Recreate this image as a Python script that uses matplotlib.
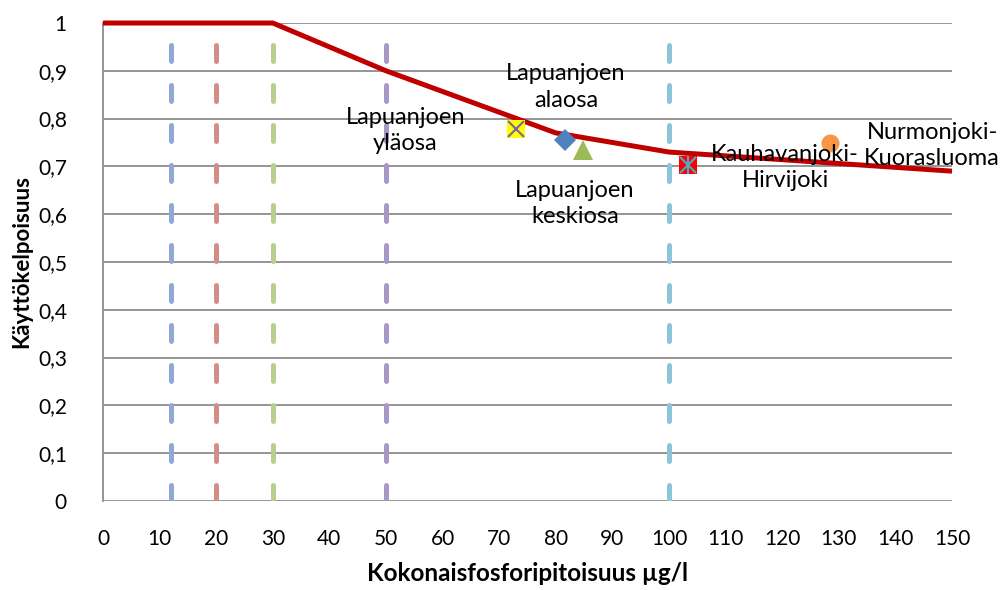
import matplotlib
matplotlib.use("Agg")
import matplotlib.pyplot as plt
from matplotlib.ticker import FuncFormatter

# Käyttökelpoisuuskäyrä
kayra_x = [0, 30, 50, 80, 100, 150]
kayra_y = [1.0, 1.0, 0.9, 0.77, 0.73, 0.69]

# Pystysuorat katkoviivat (luokkarajat)
rajat_x = [12, 20, 30, 50, 100]
rajat_varit = ["#8EA9D8", "#D68B8B", "#B7D08E", "#A898C6", "#8CC5DA"]

# Jokipisteet
joet = ["Lapuanjoen\nyläosa", "Lapuanjoen\nalaosa", "Lapuanjoen\nkeskiosa",
        "Kauhavanjoki-\nHirvijoki", "Nurmonjoki-\nKuorasluoma"]
joet_x = [73, 81.6, 84.8, 103.4, 128.4]
joet_y = [0.778, 0.755, 0.735, 0.703, 0.749]

# tekstien paikat
teksti_x = [53.4, 81.8, 83.4, 120.5, 146.5]
teksti_y = [0.776, 0.866, 0.623, 0.697, 0.743]

plt.rcParams['font.family'] = ['Lato', 'DejaVu Sans']

fig = plt.figure(figsize=(10, 5.9), dpi=100)
ax = fig.add_axes([0.103, 0.151, 0.849, 0.810])

ax.set_xlim(0, 150)
ax.set_ylim(0, 1)
ax.set_xticks(range(0, 151, 10))
ax.set_yticks([i / 10 for i in range(11)])
ax.yaxis.set_major_formatter(FuncFormatter(lambda v, p: ("%.1f" % v).replace(".", ",") if 0 < v < 1 else "%d" % v))
ax.tick_params(length=0, labelsize=15)
ax.tick_params(axis="x", pad=20)
ax.tick_params(axis="y", pad=26)
ax.grid(axis="y", color="#8C8C8C", linewidth=1.3)
ax.set_axisbelow(True)
for s in ["top", "right", "bottom"]:
    ax.spines[s].set_visible(False)
ax.spines["left"].set_color("#8C8C8C")
ax.spines["left"].set_linewidth(1.3)

for x, c in zip(rajat_x, rajat_varit):
    ax.plot([x, x], [0, 1], color=c, linewidth=3.6, dashes=(3.2, 4.8),
            dash_capstyle="round", zorder=2)

ax.plot(kayra_x, kayra_y, color="#C00000", linewidth=3.6, zorder=3, clip_on=False,
        solid_capstyle="butt")

# merkit
ax.plot(joet_x[0], joet_y[0], marker="s", markersize=13, color="#FFFF00", markeredgewidth=0, zorder=4)
ax.plot(joet_x[0], joet_y[0], marker="x", markersize=11, color="#8064A2", markeredgewidth=1.5, zorder=5)
ax.plot(joet_x[1], joet_y[1], marker="D", markersize=11, color="#4F81BD", markeredgewidth=0, zorder=4)
ax.plot(joet_x[2], joet_y[2], marker="^", markersize=15, color="#9BBB59", markeredgewidth=0, zorder=4)
ax.plot(joet_x[3], joet_y[3], marker="s", markersize=13, color="#FF0000", markeredgewidth=0, zorder=4)
ax.plot(joet_x[3], joet_y[3], marker="x", markersize=11, color="#4BACC6", markeredgewidth=1.5, zorder=5)
ax.plot(joet_x[3], joet_y[3], marker="|", markersize=13, color="#4BACC6", markeredgewidth=1.5, zorder=5)
ax.plot(joet_x[4], joet_y[4], marker="o", markersize=13, color="#F79646", markeredgewidth=0, zorder=4)

for t, x, y in zip(joet, teksti_x, teksti_y):
    ax.text(x, y, t, ha="center", va="center", fontsize=17, linespacing=1.3, zorder=6)

ax.set_xlabel("Kokonaisfosforipitoisuus µg/l", fontsize=17.5, fontweight="bold")
ax.set_ylabel("Käyttökelpoisuus", fontsize=16, fontweight="bold")
ax.xaxis.set_label_coords(0.5, -0.127)
ax.yaxis.set_label_coords(-0.083, 0.5)

fig.savefig("out.png", dpi=100)
